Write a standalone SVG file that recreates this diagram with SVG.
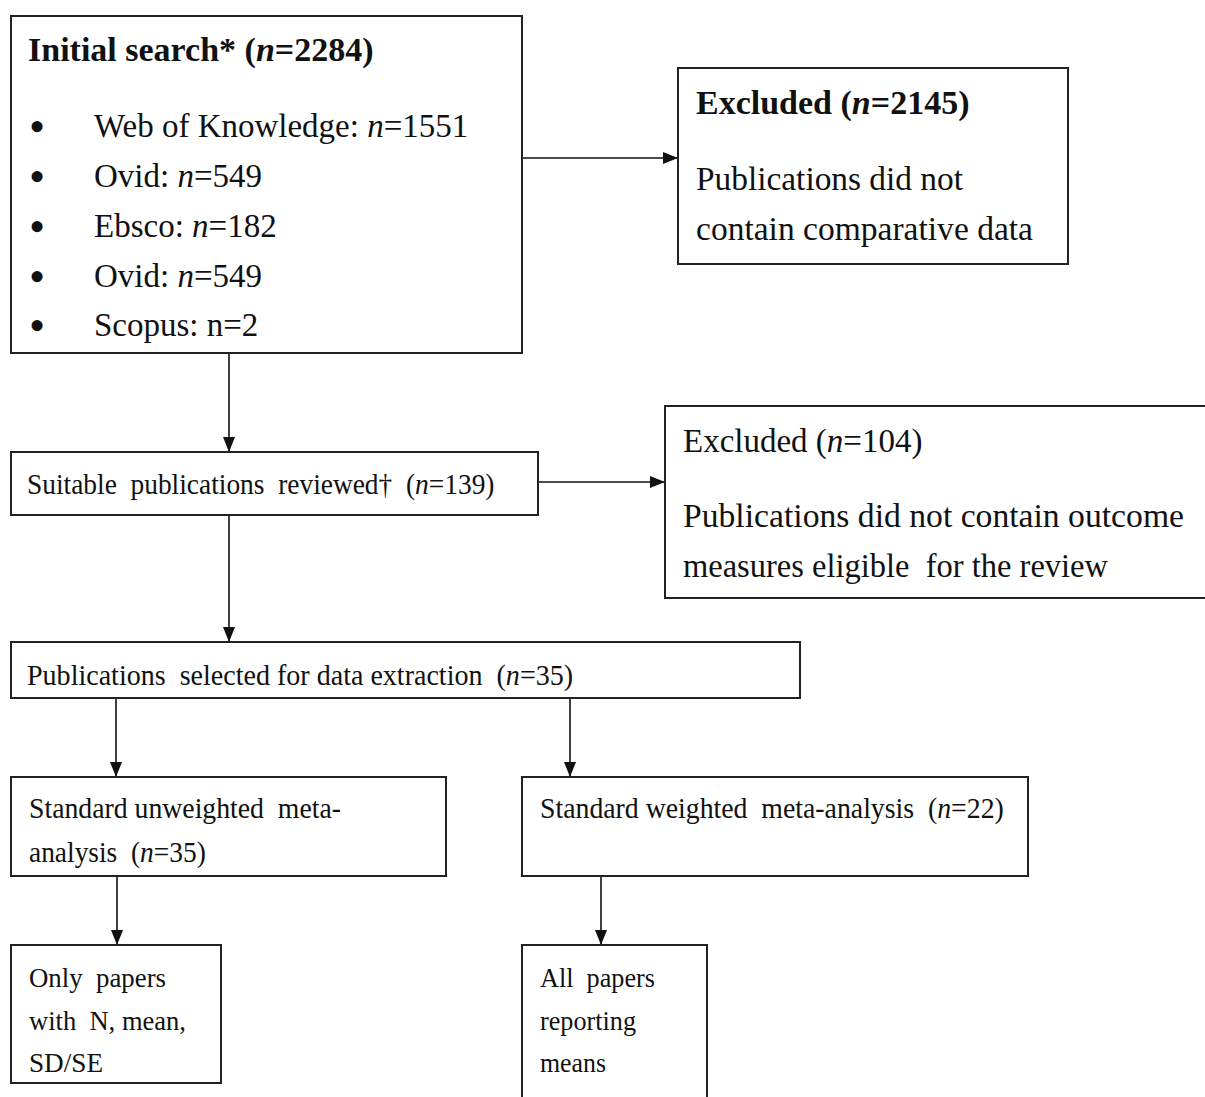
<svg xmlns="http://www.w3.org/2000/svg" width="1205" height="1097" viewBox="0 0 1205 1097">
<style>
.box{fill:#fff;stroke:#222;stroke-width:2}
.t{font-family:"Liberation Serif","Times New Roman",serif;fill:#111}
.b{font-weight:bold}
.i{font-style:italic}
.f34{font-size:34px}
.f33{font-size:33px}
.f30{font-size:30px}
.f26{font-size:27px}
.bul{font-size:46px}
.pre{white-space:pre}
.conn line{stroke:#111;stroke-width:1.6;fill:none}
</style>
<defs>
<marker id="ah" viewBox="0 0 15 12" refX="15" refY="6" markerWidth="15" markerHeight="12" markerUnits="userSpaceOnUse" orient="auto">
<path d="M0,0 L15,6 L0,12 z" fill="#111"/>
</marker>
</defs>
<rect width="1205" height="1097" fill="#fff"/>

<g id="connectors" class="conn">
<line x1="522" y1="158" x2="678" y2="158" marker-end="url(#ah)"/>
<line x1="229" y1="353" x2="229" y2="452" marker-end="url(#ah)"/>
<line x1="538" y1="482" x2="665" y2="482" marker-end="url(#ah)"/>
<line x1="229" y1="515" x2="229" y2="642" marker-end="url(#ah)"/>
<line x1="116" y1="698" x2="116" y2="777" marker-end="url(#ah)"/>
<line x1="570" y1="698" x2="570" y2="777" marker-end="url(#ah)"/>
<line x1="117" y1="876" x2="117" y2="945" marker-end="url(#ah)"/>
<line x1="601" y1="876" x2="601" y2="945" marker-end="url(#ah)"/>
</g>

<g id="initial-search">
<rect class="box" x="11" y="16" width="511" height="337"/>
<text class="t b f34" x="28" y="61">Initial search* (<tspan class="i">n</tspan>=2284)</text>
<text class="t bul" x="37" y="142" text-anchor="middle">•</text>
<text class="t bul" x="37" y="192" text-anchor="middle">•</text>
<text class="t bul" x="37" y="242" text-anchor="middle">•</text>
<text class="t bul" x="37" y="292" text-anchor="middle">•</text>
<text class="t bul" x="37" y="341" text-anchor="middle">•</text>
<text class="t f33" x="94" y="137">Web of Knowledge: <tspan class="i">n</tspan>=1551</text>
<text class="t f33" x="94" y="187">Ovid: <tspan class="i">n</tspan>=549</text>
<text class="t f33" x="94" y="237">Ebsco: <tspan class="i">n</tspan>=182</text>
<text class="t f33" x="94" y="287">Ovid: <tspan class="i">n</tspan>=549</text>
<text class="t f33" x="94" y="336">Scopus: n=2</text>
</g>

<g id="excluded-2145">
<rect class="box" x="678" y="68" width="390" height="196"/>
<text class="t b f34" x="696" y="114">Excluded (<tspan class="i">n</tspan>=2145)</text>
<text class="t f33" x="696" y="190" textLength="267" lengthAdjust="spacingAndGlyphs">Publications did not</text>
<text class="t f33" x="696" y="240" textLength="337" lengthAdjust="spacingAndGlyphs">contain comparative data</text>
</g>

<g id="suitable-publications">
<rect class="box" x="11" y="452" width="527" height="63"/>
<text class="t f30 pre" transform="translate(27,494) scale(0.914,1)" x="0" y="0">Suitable  publications  reviewed†  (<tspan class="i">n</tspan>=139)</text>
</g>

<g id="excluded-104">
<rect class="box" x="665" y="406" width="548" height="192"/>
<text class="t f33" x="683" y="452">Excluded (<tspan class="i">n</tspan>=104)</text>
<text class="t f33" x="683" y="527" textLength="501" lengthAdjust="spacingAndGlyphs">Publications did not contain outcome</text>
<text class="t f33 pre" x="683" y="577" textLength="425" lengthAdjust="spacingAndGlyphs">measures eligible  for the review</text>
</g>

<g id="selected-for-extraction">
<rect class="box" x="11" y="642" width="789" height="56"/>
<text class="t f30 pre" transform="translate(27,685) scale(0.935,1)" x="0" y="0">Publications  selected for data extraction  (<tspan class="i">n</tspan>=35)</text>
</g>

<g id="unweighted">
<rect class="box" x="11" y="777" width="435" height="99"/>
<text class="t f30 pre" x="29" y="818" textLength="312" lengthAdjust="spacingAndGlyphs">Standard unweighted  meta-</text>
<text class="t f30 pre" transform="translate(29,862) scale(0.914,1)" x="0" y="0">analysis  (<tspan class="i">n</tspan>=35)</text>
</g>

<g id="weighted">
<rect class="box" x="522" y="777" width="506" height="99"/>
<text class="t f30 pre" transform="translate(540,818) scale(0.926,1)" x="0" y="0">Standard weighted  meta-analysis  (<tspan class="i">n</tspan>=22)</text>
</g>

<g id="only-papers">
<rect class="box" x="11" y="945" width="210" height="138"/>
<text class="t f26 pre" x="29" y="987" textLength="137" lengthAdjust="spacingAndGlyphs">Only  papers</text>
<text class="t f26 pre" x="29" y="1030" textLength="157" lengthAdjust="spacingAndGlyphs">with  N, mean,</text>
<text class="t f26" x="29" y="1072" textLength="74" lengthAdjust="spacingAndGlyphs">SD/SE</text>
</g>

<g id="all-papers">
<rect class="box" x="522" y="945" width="185" height="160"/>
<text class="t f26 pre" x="540" y="987" textLength="115" lengthAdjust="spacingAndGlyphs">All  papers</text>
<text class="t f26" x="540" y="1030" textLength="96" lengthAdjust="spacingAndGlyphs">reporting</text>
<text class="t f26" x="540" y="1072" textLength="66" lengthAdjust="spacingAndGlyphs">means</text>
</g>
</svg>
